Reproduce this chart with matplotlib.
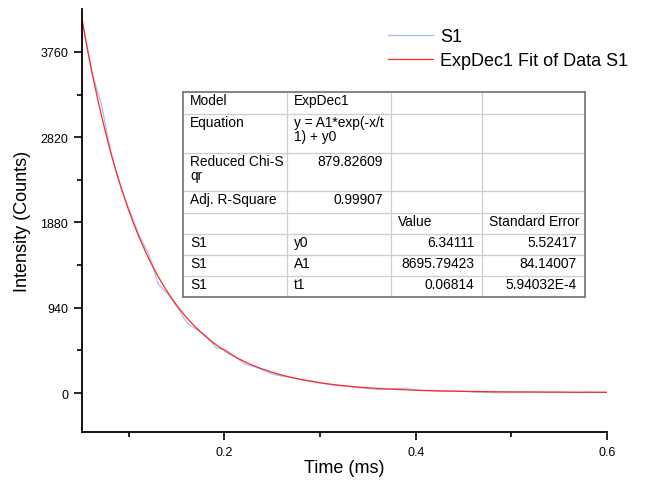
import numpy as np
import matplotlib.pyplot as plt
from matplotlib.ticker import FixedLocator, NullFormatter

plt.rcParams['font.family'] = ['Liberation Sans', 'DejaVu Sans']

# measured decay, S1
time_ms = [0.051, 0.061, 0.071, 0.081, 0.091, 0.101, 0.111, 0.121, 0.131, 0.141,
           0.151, 0.161, 0.171, 0.181, 0.191, 0.201, 0.211, 0.221, 0.231, 0.241,
           0.251, 0.261, 0.271, 0.281, 0.291, 0.301, 0.311, 0.321, 0.331, 0.341,
           0.351, 0.361, 0.371, 0.381, 0.391, 0.401, 0.411, 0.421, 0.431, 0.441,
           0.451, 0.461, 0.471, 0.481, 0.491, 0.501, 0.511, 0.521, 0.531, 0.541,
           0.551, 0.561, 0.571, 0.581, 0.591, 0.600]
counts = [4130, 3540, 3200, 2660, 2290, 2000, 1730, 1530, 1195, 1090,
          940, 770, 700, 632, 500, 480, 400, 322, 290, 250,
          205, 185, 168, 145, 134, 108, 92, 80, 70, 58,
          48, 40, 42, 52, 50, 30, 24, 22, 18, 22,
          18, 10, 8, 4, 2, 6, 10, 12, 10, 8,
          10, 5, 4, 9, 6, 7]

# ExpDec1 fit result
y0 = 6.34111
A1 = 8695.79423
t1 = 0.06814

table_rows = [
    ["Model", "ExpDec1", "", ""],
    ["Equation", "y = A1*exp(-x/t\n1) + y0", "", ""],
    ["Reduced Chi-S\nqr", "879.82609", "", ""],
    ["Adj. R-Square", "0.99907", "", ""],
    ["", "", "Value", "Standard Error"],
    ["S1", "y0", "6.34111", "5.52417"],
    ["S1", "A1", "8695.79423", "84.14007"],
    ["S1", "t1", "0.06814", "5.94032E-4"],
]

W, H = 653, 481
fig = plt.figure(figsize=(W / 100, H / 100), dpi=100)
ax = fig.add_axes([82 / W, 1 - 433 / H, (607 - 82) / W, (433 - 10) / H])

x_fit = np.linspace(time_ms[0], time_ms[-1], 400)
y_fit = A1 * np.exp(-x_fit / t1) + y0

ax.plot(time_ms, counts, color='#a9b9ff', lw=0.9, label='S1')
ax.plot(x_fit, y_fit, color='#ff2a1a', lw=0.9, label='ExpDec1 Fit of Data S1')

ax.set_xlim(0.051, 0.6)
ax.set_ylim(-430, 4234)
for side in ('top', 'right'):
    ax.spines[side].set_visible(False)
for side in ('left', 'bottom'):
    ax.spines[side].set_linewidth(1.3)

ax.xaxis.set_major_locator(FixedLocator([0.2, 0.4, 0.6]))
ax.xaxis.set_minor_locator(FixedLocator([0.1, 0.3, 0.5]))
ax.set_xticklabels(['0.2', '0.4', '0.6'])
ax.yaxis.set_major_locator(FixedLocator([0, 940, 1880, 2820, 3760]))
ax.yaxis.set_minor_locator(FixedLocator([470, 1410, 2350, 3290]))
ax.yaxis.set_minor_formatter(NullFormatter())
ax.tick_params(which='major', direction='out', length=6, width=1.2,
               labelsize=9, pad=4)
ax.tick_params(which='minor', direction='out', length=3.5, width=1.2)

ax.set_xlabel('Time (ms)', fontsize=13, labelpad=1)
ax.set_ylabel('Intensity (Counts)', fontsize=13, labelpad=7)

ax.legend(loc='upper left', bbox_to_anchor=(388 / W, 1 - 29 / H),
          bbox_transform=fig.transFigure, frameon=False, fontsize=13,
          handlelength=2.5, handletextpad=0.4, labelspacing=0.4,
          borderpad=0, borderaxespad=0)

# fit report table, laid out in pixel units
col_edges = [183, 287, 391, 482, 585]
row_edges = [93, 115, 154, 192, 214, 235, 256, 277, 298]
tab = fig.add_axes([col_edges[0] / W, 1 - row_edges[-1] / H,
                    (col_edges[-1] - col_edges[0]) / W,
                    (row_edges[-1] - row_edges[0]) / H])
tab.set_xlim(col_edges[0], col_edges[-1])
tab.set_ylim(row_edges[-1], row_edges[0])
tab.set_facecolor('white')
tab.set_xticks([])
tab.set_yticks([])
for s in tab.spines.values():
    s.set_color('#7a7a7a')
    s.set_linewidth(1.3)
for yy in row_edges[1:-1]:
    tab.axhline(yy, color='#cdcdcd', lw=0.9)
for xx in col_edges[1:-1]:
    tab.axvline(xx, color='#cdcdcd', lw=0.9)


def is_number(s):
    try:
        float(s)
        return True
    except ValueError:
        return False


for r, row in enumerate(table_rows):
    top = row_edges[r]
    for c, cell in enumerate(row):
        for i, line in enumerate(cell.split('\n')):
            yy = top + 8 + 14 * i
            if is_number(cell):
                tab.text(col_edges[c + 1] - 8, yy, line, ha='right',
                         va='center', fontsize=9.9)
            else:
                tab.text(col_edges[c] + 7, yy, line, ha='left',
                         va='center', fontsize=9.9)

fig.savefig('out.png', dpi=100)
